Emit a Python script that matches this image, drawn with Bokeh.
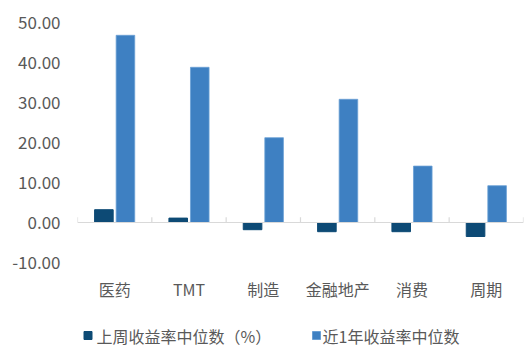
from bokeh.plotting import figure
from bokeh.layouts import column
from bokeh.models import (Range1d, FixedTicker, NumeralTickFormatter, ColumnDataSource, Span)
from bokeh.core.properties import value
from bokeh.embed import file_html
from bokeh.resources import INLINE

categories = ["医药", "TMT", "制造", "金融地产", "消费", "周期"]
weekly = [3.2, 1.1, -1.8, -2.3, -2.3, -3.5]
yearly = [46.8, 38.8, 21.2, 30.8, 14.1, 9.2]
y_ticks = [-10, 0, 10, 20, 30, 40, 50]
series_names = ["上周收益率中位数（%）", "近1年收益率中位数"]

FONT = "Noto Sans CJK SC"
TXT = "#595959"
DARK = "#0d4a75"
BLUE = "#3e80c2"
BLUE_EDGE = "#6a9fd4"
GRID = "#d9d9d9"

n = len(categories)
centers = [i + 0.5 for i in range(n)]
src = ColumnDataSource(dict(
    xw=[c - 0.145 for c in centers],
    xy=[c + 0.145 for c in centers],
    weekly=weekly, yearly=yearly,
))

p = figure(width=531, height=306, output_backend="svg", toolbar_location=None,
           x_range=Range1d(0, n), y_range=Range1d(-11.5, 51.75),
           min_border_left=77, min_border_right=8, min_border_top=15, min_border_bottom=38)
p.outline_line_color = None
p.xgrid.visible = False
p.ygrid.visible = False
p.background_fill_color = "white"
p.border_fill_color = "white"

p.vbar(x="xw", top="weekly", bottom=0, width=0.25, source=src,
       fill_color=DARK, line_color=DARK)
p.vbar(x="xy", top="yearly", bottom=0, width=0.25, source=src,
       fill_color=BLUE, line_color=BLUE_EDGE, line_width=0.8)

# zero axis line and boundary ticks
p.add_layout(Span(location=0, dimension="width", line_color=GRID, line_width=1.2))
bounds = list(range(n + 1))
p.segment(x0=bounds, x1=bounds, y0=[0] * len(bounds), y1=[1.3] * len(bounds),
          line_color=GRID, line_width=1.2)

ax = p.xaxis[0]
ax.ticker = FixedTicker(ticks=centers)
ax.major_label_overrides = {c: lab for c, lab in zip(centers, categories)}
ax.axis_line_color = None
ax.major_tick_line_color = None
ax.minor_tick_line_color = None
ax.major_label_text_font = FONT
ax.major_label_text_font_size = "16px"
ax.major_label_text_color = TXT
ax.major_label_standoff = 2

ay = p.yaxis[0]
ay.ticker = FixedTicker(ticks=y_ticks)
ay.formatter = NumeralTickFormatter(format="0.00")
ay.axis_line_color = None
ay.major_tick_line_color = None
ay.minor_tick_line_color = None
ay.major_label_text_font = FONT
ay.major_label_text_font_size = "17px"
ay.major_label_text_color = TXT
ay.major_label_standoff = 11

# legend strip (x in page pixels; frame aligned with main plot frame 77..523)
p2 = figure(width=531, height=45, output_backend="svg", toolbar_location=None,
            x_range=Range1d(77, 523), y_range=Range1d(0, 45),
            x_axis_location=None, y_axis_location=None,
            min_border_left=77, min_border_right=8, min_border_top=0, min_border_bottom=0)
p2.outline_line_color = None
p2.grid.visible = False
p2.border_fill_color = "white"
leg_src = ColumnDataSource(dict(
    sx=[87.5, 316], tx=[96, 322], y=[16, 16],
    color=[DARK, BLUE], edge=[DARK, BLUE_EDGE], label=series_names,
))
p2.rect(x="sx", y="y", width=8, height=8, width_units="screen", height_units="screen",
        fill_color="color", line_color="edge", source=leg_src)
p2.text(x="tx", y="y", text="label", text_font=value(FONT), text_font_size="16px",
        text_color=TXT, text_baseline="middle", text_align="left", source=leg_src)

open("out.html", "w").write(file_html(column(p, p2, spacing=0), INLINE))
